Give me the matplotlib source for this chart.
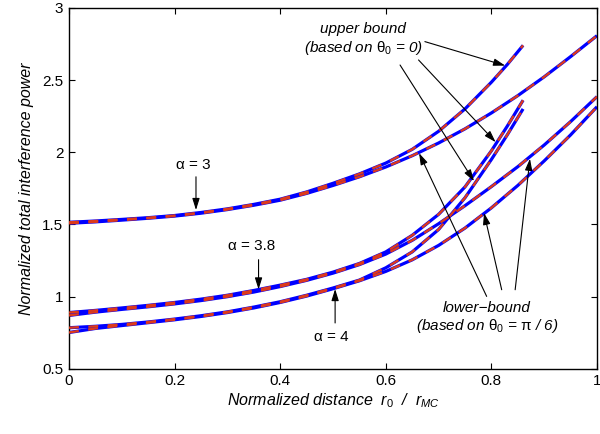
import matplotlib
matplotlib.use('Agg')
import matplotlib.pyplot as plt

plt.rcParams['font.family'] = ['Liberation Sans', 'DejaVu Sans']
plt.rcParams['mathtext.fontset'] = 'custom'
plt.rcParams['mathtext.rm'] = 'Liberation Sans'
plt.rcParams['mathtext.it'] = 'Liberation Sans:italic'
plt.rcParams['mathtext.bf'] = 'Liberation Sans:bold'

# normalized distance grids
x_upper = [0, 0.05, 0.1, 0.15, 0.2, 0.25, 0.3, 0.35, 0.4, 0.45, 0.5,
           0.55, 0.6, 0.65, 0.7, 0.75, 0.8, 0.83, 0.86]
x_lower = [0, 0.05, 0.1, 0.15, 0.2, 0.25, 0.3, 0.35, 0.4, 0.45, 0.5,
           0.55, 0.6, 0.65, 0.7, 0.75, 0.8, 0.85, 0.9, 0.95, 1.0]

# upper bound (theta_0 = 0)
upper_a3 = [1.515, 1.524, 1.535, 1.547, 1.562, 1.583, 1.608, 1.639, 1.675, 1.725, 1.785,
            1.85, 1.925, 2.02, 2.145, 2.30, 2.485, 2.607, 2.74]
upper_a38 = [0.89, 0.905, 0.922, 0.94, 0.96, 0.983, 1.01, 1.043, 1.08, 1.12, 1.17,
             1.23, 1.31, 1.425, 1.57, 1.76, 2.01, 2.18, 2.36]
upper_a4 = [0.785, 0.795, 0.808, 0.825, 0.845, 0.868, 0.895, 0.928, 0.965, 1.01, 1.06,
            1.115, 1.20, 1.31, 1.465, 1.685, 1.95, 2.12, 2.30]

# lower bound (theta_0 = pi/6)
lower_a3 = [1.508, 1.518, 1.53, 1.543, 1.558, 1.578, 1.603, 1.633, 1.668, 1.715, 1.77,
            1.83, 1.898, 1.976, 2.064, 2.162, 2.272, 2.392, 2.522, 2.662, 2.807]
lower_a38 = [0.87, 0.893, 0.912, 0.93, 0.95, 0.973, 1.0, 1.032, 1.07, 1.113, 1.163,
             1.222, 1.295, 1.39, 1.505, 1.63, 1.762, 1.90, 2.05, 2.212, 2.385]
lower_a4 = [0.752, 0.78, 0.80, 0.82, 0.84, 0.863, 0.89, 0.922, 0.96, 1.004, 1.055,
            1.11, 1.175, 1.255, 1.355, 1.475, 1.615, 1.77, 1.94, 2.12, 2.315]

x_ticks = [0, 0.2, 0.4, 0.6, 0.8, 1]
x_tick_labels = ['0', '0.2', '0.4', '0.6', '0.8', '1']
y_ticks = [0.5, 1, 1.5, 2, 2.5, 3]
y_tick_labels = ['0.5', '1', '1.5', '2', '2.5', '3']

BLUE = '#0000ff'
RED = '#dc3a1c'

fig = plt.figure(figsize=(6.0, 4.34), dpi=100)
ax = fig.add_axes([0.115, 0.150, 0.880, 0.832])

curves = [(x_upper, upper_a3), (x_lower, lower_a3),
          (x_upper, upper_a38), (x_lower, lower_a38),
          (x_upper, upper_a4), (x_lower, lower_a4)]
for xs, ys in curves:
    ax.plot(xs, ys, color=BLUE, lw=2.3, solid_capstyle='butt',
            solid_joinstyle='round', zorder=2)
    ax.plot(xs, ys, color=RED, lw=1.7, dashes=(4.2, 4.0), dash_capstyle='butt',
            dash_joinstyle='round', zorder=3)

ax.set_xlim(0, 1)
ax.set_ylim(0.5, 3)
ax.set_xticks(x_ticks)
ax.set_xticklabels(x_tick_labels)
ax.set_yticks(y_ticks)
ax.set_yticklabels(y_tick_labels)
ax.tick_params(direction='in', top=True, right=True, length=4, width=0.8,
               labelsize=11, pad=4)
for s in ax.spines.values():
    s.set_linewidth(1.0)

ax.set_xlabel(r'Normalized distance  $r_{\mathit{0}}$  /  $r_{MC}$', fontsize=11.5,
              style='italic', labelpad=2)
ax.set_ylabel('Normalized total interference power', fontsize=11.5,
              style='italic', labelpad=6)

arrow = dict(arrowstyle='-|>,head_length=0.7,head_width=0.22', color='k',
             lw=0.8, shrinkA=0, shrinkB=0)

# alpha labels
ax.text(0.235, 1.913, 'α = 3', fontsize=11, ha='center', va='center')
ax.annotate('', xy=(0.2405, 1.60), xytext=(0.2405, 1.83), arrowprops=arrow)
ax.text(0.345, 1.348, 'α = 3.8', fontsize=11, ha='center', va='center')
ax.annotate('', xy=(0.359, 1.05), xytext=(0.359, 1.256), arrowprops=arrow)
ax.text(0.4975, 0.721, 'α = 4', fontsize=11, ha='center', va='center')
ax.annotate('', xy=(0.504, 1.053), xytext=(0.504, 0.818), arrowprops=arrow)

# upper bound labels
ax.text(0.557, 2.853, 'upper bound', fontsize=11, style='italic',
        ha='center', va='center')
ax.text(0.557, 2.722, r'(based on $\mathrm{\theta}_{\mathit{0}}$ = 0)', fontsize=11,
        style='italic', ha='center', va='center')
ax.annotate('', xy=(0.826, 2.600), xytext=(0.674, 2.766), arrowprops=arrow)
ax.annotate('', xy=(0.808, 2.070), xytext=(0.662, 2.639), arrowprops=arrow)
ax.annotate('', xy=(0.767, 1.800), xytext=(0.627, 2.604), arrowprops=arrow)

# lower bound labels
ax.text(0.792, 0.924, 'lower−bound', fontsize=11, style='italic',
        ha='center', va='center')
ax.text(0.792, 0.800,
        r'(based on $\mathrm{\theta}_{\mathit{0}}$ = $\mathrm{\pi}$ / 6)',
        fontsize=11, style='italic', ha='center', va='center')
ax.annotate('', xy=(0.663, 1.994), xytext=(0.791, 1.002), arrowprops=arrow)
ax.annotate('', xy=(0.786, 1.58), xytext=(0.8195, 1.048), arrowprops=arrow)
ax.annotate('', xy=(0.873, 1.955), xytext=(0.845, 1.048), arrowprops=arrow)

fig.savefig('out.png', dpi=100)
